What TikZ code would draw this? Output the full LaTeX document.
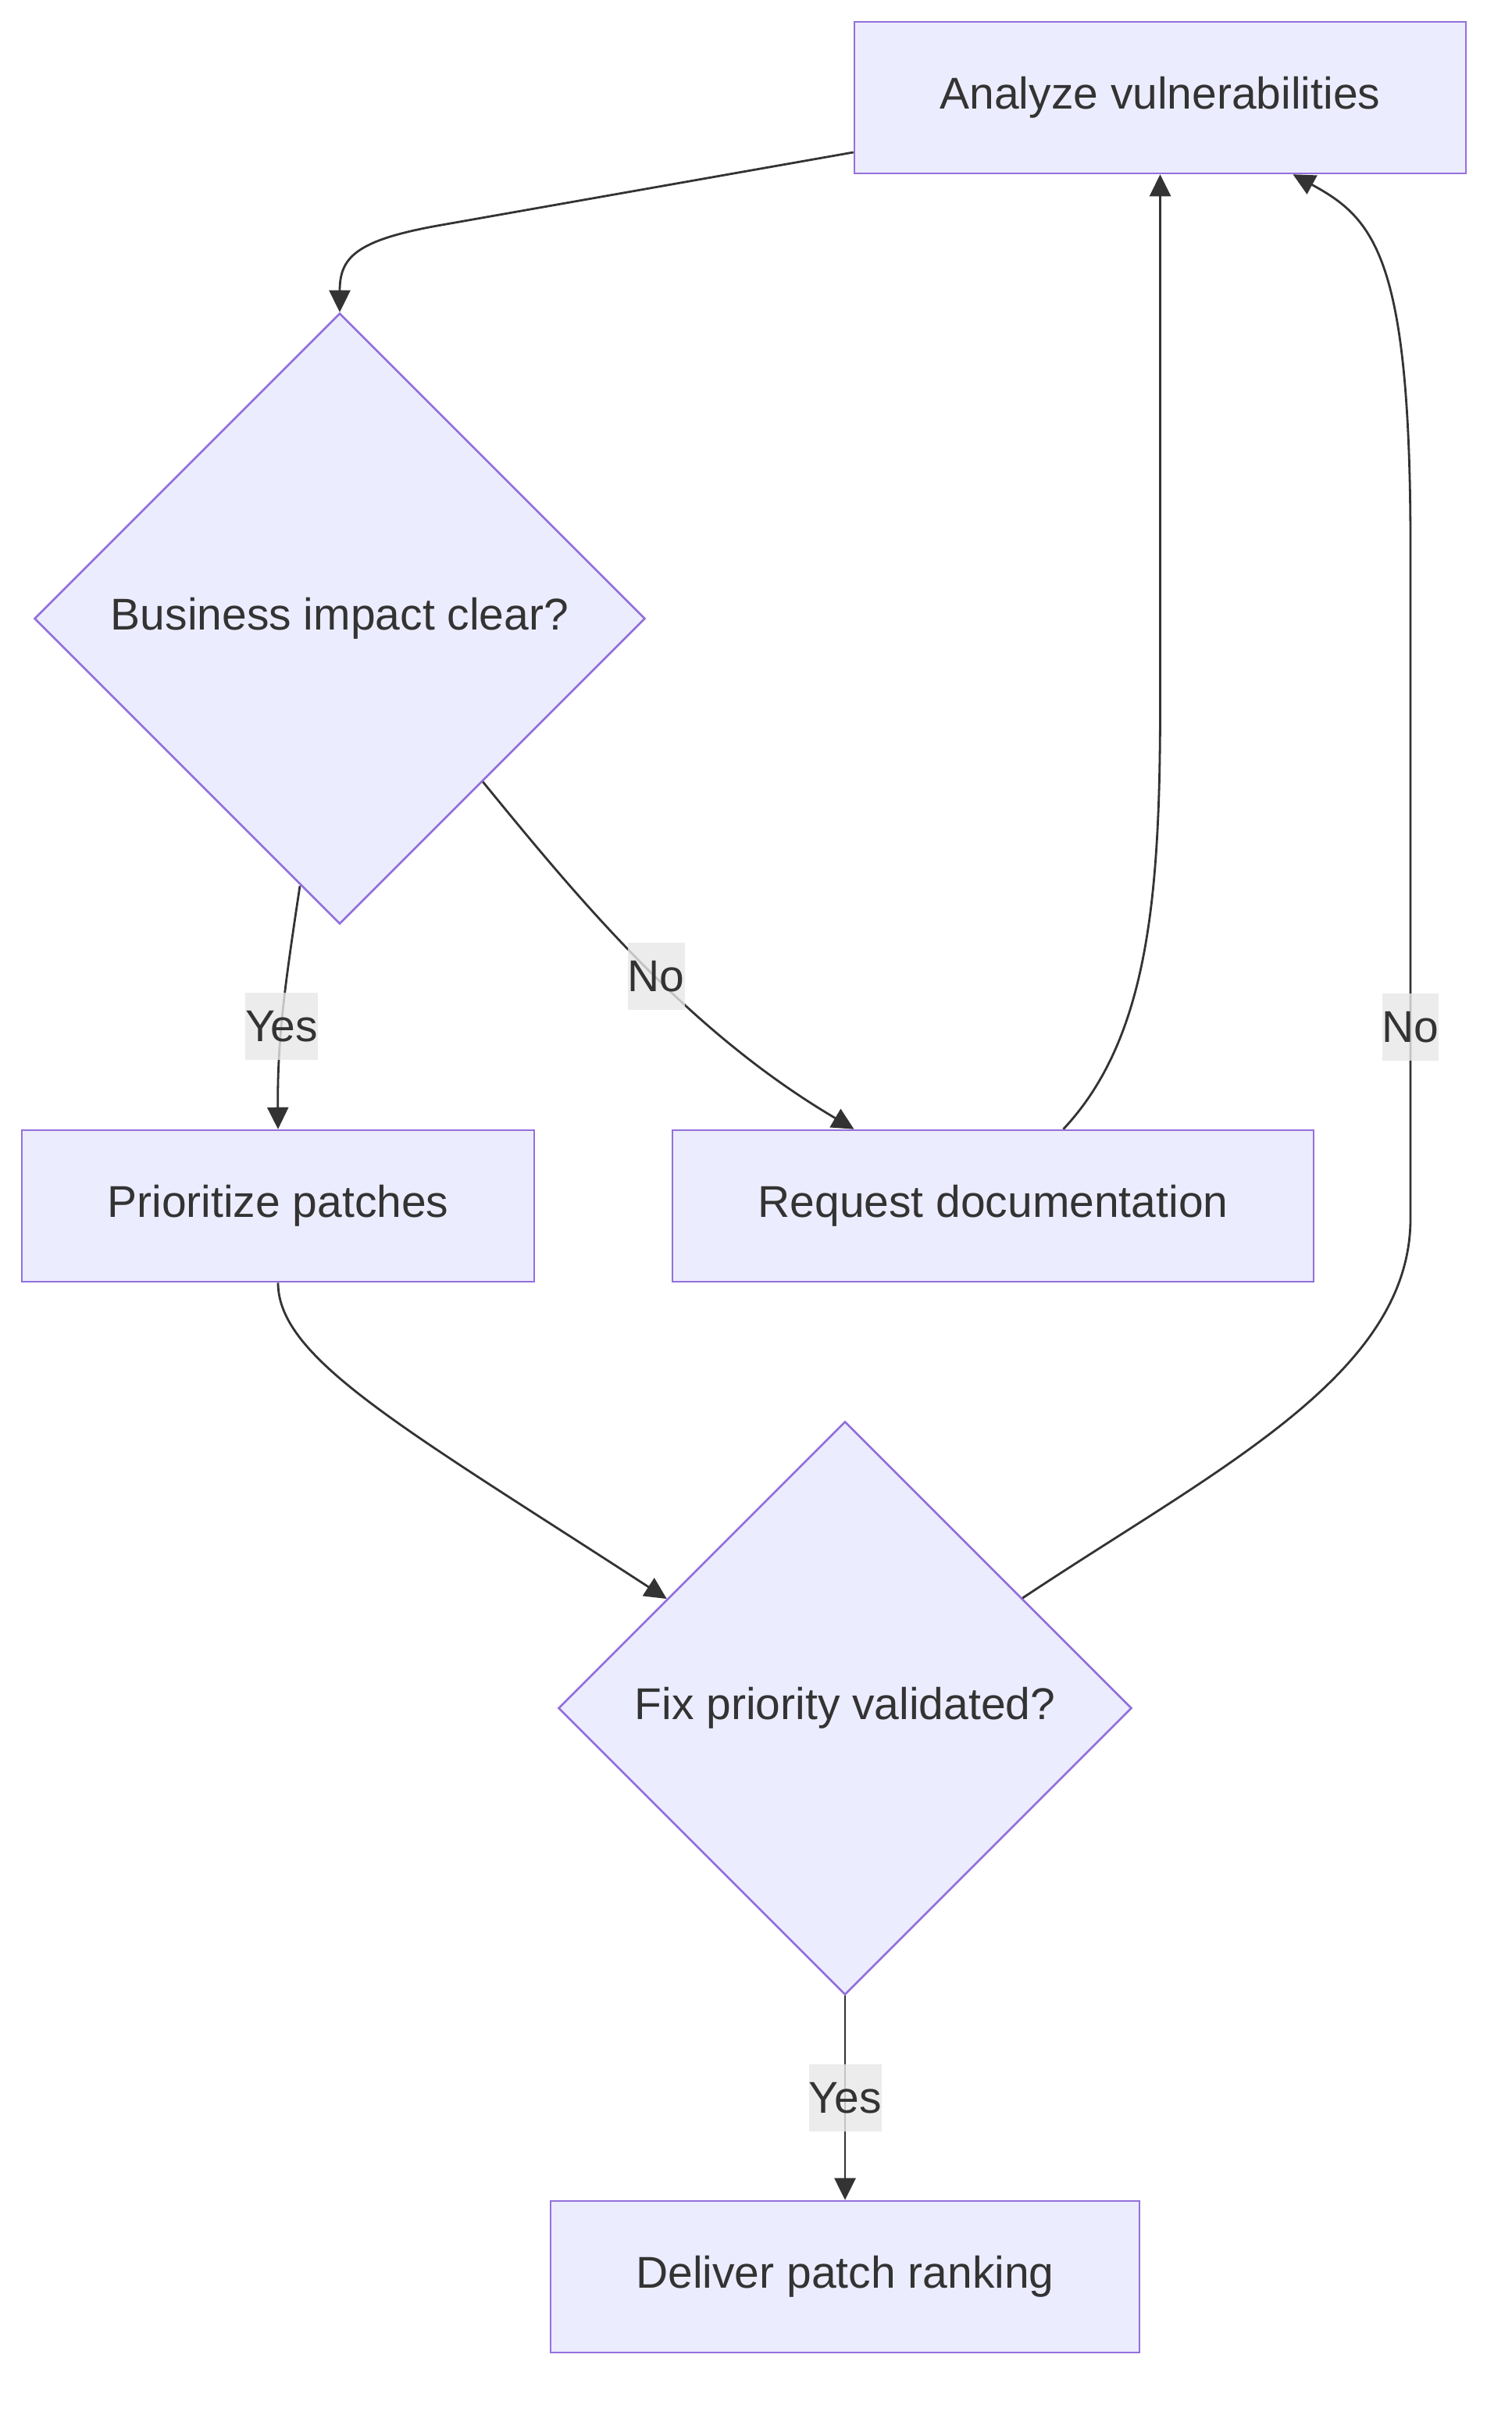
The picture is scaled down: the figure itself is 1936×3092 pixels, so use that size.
\documentclass[tikz,border=0pt]{standalone}
\usepackage{fontspec}
\setmainfont{Liberation Sans}
\usetikzlibrary{shapes.geometric,arrows.meta}
\definecolor{nodefill}{HTML}{ECECFF}
\definecolor{nodeborder}{HTML}{9370DB}
\definecolor{linecol}{HTML}{333333}
\definecolor{lblbg}{HTML}{E8E8E8}
\begin{document}
\begin{tikzpicture}[x=0.25pt,y=-0.25pt,
  txt/.style={text=linecol, font=\fontsize{14.25}{17}\selectfont},
  proc/.style={txt, rectangle, draw=nodeborder, fill=nodefill, line width=0.65pt, minimum height=48.5pt, inner sep=0pt},
  decision/.style={txt, diamond, draw=nodeborder, fill=nodefill, line width=0.65pt, inner sep=0pt},
  conn/.style={draw=linecol, line width=0.7pt, -{Triangle[length=7pt,width=6.75pt]}},
  lbl/.style={txt, fill=lblbg, fill opacity=0.8, text opacity=1, inner xsep=0pt, inner ysep=0pt, minimum height=21.5pt}
]
\useasboundingbox[fill=white] (0,0) rectangle (1936,3092);

\node[proc, minimum width=195.75pt] (ana) at (1485.5,125) {Analyze vulnerabilities};
\node[decision, minimum width=195.5pt, minimum height=195.5pt] (biz) at (435,792) {Business impact clear?};
\node[proc, minimum width=164pt] (pri) at (356,1544) {Prioritize patches};
\node[proc, minimum width=205.25pt] (req) at (1271.5,1544) {Request documentation};
\node[decision, minimum width=183.5pt, minimum height=183.5pt] (fix) at (1082,2187) {Fix priority validated?};
\node[proc, minimum width=188.5pt] (del) at (1082,2915) {Deliver patch ranking};

% Analyze -> Business
\draw[conn] ([shift={(0,70)}]ana.west) -- (560,289)
  .. controls (455,308) and (435,330) .. (biz.north);

% Business -> Prioritize (Yes)
\draw[conn] ([shift={(-51,-50)}]biz.south)
  .. controls (365,1260) and (355,1330) .. node[lbl, pos=0.57] {Yes} (pri.north);

% Business -> Request (No)
\draw[conn] ([shift={(-209,209)}]biz.east)
  .. controls (740,1150) and (880,1320) .. node[lbl, pos=0.54] {No} ([shift={(-178,0)}]req.north);

% Request -> Analyze
\draw[conn] ([shift={(90,0)}]req.north)
  .. controls (1470,1330) and (1485.5,1150) .. (1485.5,900) -- (ana.south);

% Prioritize -> Fix
\draw[conn] (pri.south)
  .. controls (356,1740) and (520,1830) .. ([shift={(140,-140)}]fix.west);

% Fix -> Analyze (No)
\draw[conn] ([shift={(-141,-141)}]fix.east)
  .. controls (1559,1880) and (1806,1760) .. (1806,1560)
  -- node[lbl, pos=0.285] {No} (1806,700)
  .. controls (1806,330) and (1760,280) .. ([shift={(170,0)}]ana.south);

% Fix -> Deliver (Yes)
\draw[conn] (fix.south) -- node[lbl, pos=0.5] {Yes} (del.north);
\end{tikzpicture}
\end{document}
